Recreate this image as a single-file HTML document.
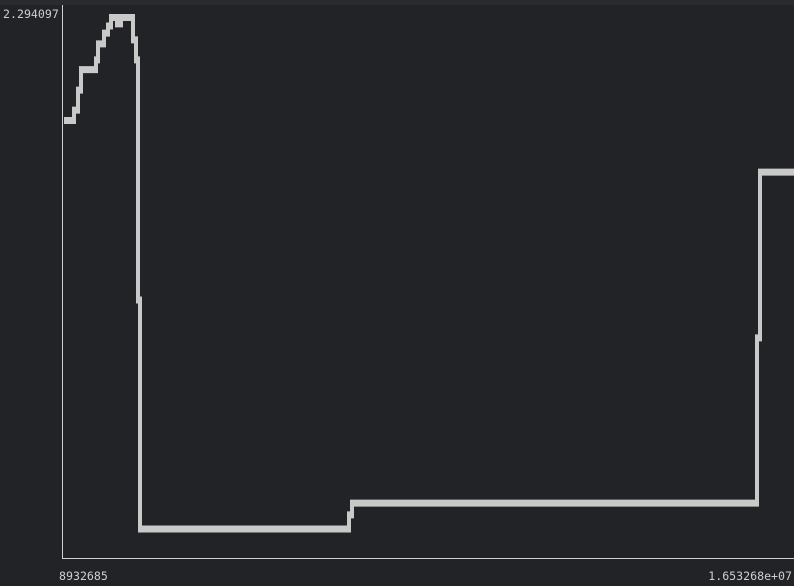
<!DOCTYPE html>
<html><head><meta charset="utf-8"><style>
html,body{margin:0;padding:0;background:#222326;}
svg{display:block}
text{font-family:"DejaVu Sans Mono","Liberation Mono",monospace;font-size:11.6px;fill:#cfcfcf}
</style></head><body>
<svg width="794" height="586" viewBox="0 0 794 586" xmlns="http://www.w3.org/2000/svg">
<rect x="0" y="0" width="794" height="586" fill="#222326"/>
<rect x="0" y="0" width="794" height="5" fill="#2a2b2e"/>
<line x1="62.5" y1="5" x2="62.5" y2="558" stroke="#cfcfcf" stroke-width="1"/>
<line x1="62" y1="558.5" x2="794" y2="558.5" stroke="#cfcfcf" stroke-width="1"/>
<text x="3" y="18">2.294097</text>
<text x="59" y="580">8932685</text>
<text x="792" y="580" text-anchor="end">1.653268e+07</text>
<g id="series"></g>
</svg>
<script>
const xValues=[8974215,9057275,9098805,9129953,9285690,9306455,9368750,9410280,9441428,9503723,9545253,9669843,9700990,9721755,9742520,11912383,11943530,16148443,16179590];
const yValues=[1.857,1.901,1.986,2.073,2.114,2.182,2.228,2.258,2.294,2.267,2.294,2.199,2.114,1.095,0.123,0.183,0.233,0.934,1.638];
const xEnd=16532680;
const xMin=8932685,xMax=16532680,yMin=0,yMax=2.294097;
function sx(v){return 62+(v-xMin)/(xMax-xMin)*732;}
function sy(v){return 558-(v-yMin)/(yMax-yMin)*540.5;}
let dh='',dv='';
for(let i=0;i<xValues.length;i++){
  const x0=sx(xValues[i]);const x1=sx(i+1<xValues.length?xValues[i+1]:xEnd);const y=sy(yValues[i]);
  dh+='M'+(x0-2).toFixed(1)+' '+y.toFixed(1)+' L'+(x1+2).toFixed(1)+' '+y.toFixed(1)+' ';
  if(i+1<xValues.length){
    const y2=sy(yValues[i+1]);
    dv+='M'+x1.toFixed(1)+' '+y.toFixed(1)+' L'+x1.toFixed(1)+' '+y2.toFixed(1)+' ';
  }
}
const pv=document.createElementNS('http://www.w3.org/2000/svg','path');
pv.setAttribute('d',dv);
pv.setAttribute('fill','none');
pv.setAttribute('stroke','#c8c9c8');
pv.setAttribute('stroke-width','4');


document.getElementById('series').appendChild(pv);
const ph=document.createElementNS('http://www.w3.org/2000/svg','path');
ph.setAttribute('d',dh);
ph.setAttribute('fill','none');
ph.setAttribute('stroke','#c8c9c8');
ph.setAttribute('stroke-width','7');


document.getElementById('series').appendChild(ph);
</script>
</body></html>
